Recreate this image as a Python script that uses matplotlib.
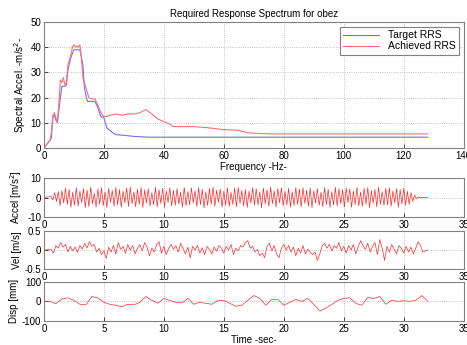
import numpy as np
import matplotlib
matplotlib.use("Agg")
import matplotlib.pyplot as plt

plt.rcParams["font.family"] = ["Liberation Sans", "DejaVu Sans"]
plt.rcParams["font.size"] = 7

# Response spectrum (frequency Hz, spectral accel m/s^2)
TARGET_F = [0, 1, 2, 2.5, 3, 3.5, 4, 4.5, 5, 5.5, 6, 7, 7.5, 8, 9, 10, 12, 13, 13.5,
            14, 14.5, 17, 18, 19, 20, 21, 22, 23, 24, 27, 30, 35, 128]
TARGET_A = [0, 1.5, 3, 4, 12.5, 13, 11, 10, 15, 20, 24.5, 24.5, 25, 31, 36, 39, 39, 33, 24,
            21, 18.5, 18.5, 16, 12.5, 12, 8, 7, 6, 5.3, 5, 4.6, 4.3, 4.3]
ACHIEVED_F = [0, 1, 2, 2.5, 3, 3.5, 4, 4.5, 5, 5.5, 6, 6.5, 7, 7.5, 8, 9, 9.5, 10, 10.5,
              11, 11.5, 12, 12.5, 13, 14, 15, 16, 17, 18, 19, 20, 21, 22, 24, 26, 28, 30,
              32, 34, 36, 38, 40, 42, 43, 50, 55, 60, 65, 68, 75, 128]
ACHIEVED_A = [0, 1.5, 3, 6, 13, 14, 12, 10.5, 18, 27, 26, 28, 25, 26, 33, 37, 40, 41, 40,
              40.5, 40, 41, 36, 28, 24, 20, 19.5, 19.5, 17, 14, 12.5, 12.5, 13, 13.5, 13,
              13.5, 13.5, 14, 15.3, 13.5, 11.5, 10.5, 9.5, 8.5, 8.5, 8, 7.3, 7, 6, 5.6, 5.6]

# Acceleration samples, every 0.15 s from 0.6 s
ACC_T0, ACC_DT = 0.6, 0.15
ACCEL = [
    0.5, -1.2, 2.5, -2.0, 3.0, -4.2, 3.5, -2.8, 4.8, -3.5,
    4.2, -5.0, 2.6, -3.9, 5.1, -4.4, 3.2, -2.5, 4.6, -5.2,
    3.8, -4.7, 5.3, -3.1, 2.2, -4.9, 4.4, -3.6, 5.0, -4.1,
    2.9, -5.3, 4.7, -2.4, 3.6, -4.5, 5.2, -3.8, 4.1, -5.0,
    3.3, -2.7, 4.9, -4.6, 5.4, -3.2, 2.8, -4.8, 4.3, -3.5,
    5.1, -5.2, 3.9, -2.9, 4.5, -4.3, 2.5, -3.7, 5.3, -4.9,
    4.0, -3.1, 4.8, -5.1, 3.4, -2.6, 5.0, -4.4, 3.7, -4.0,
    4.6, -3.3, 2.7, -5.0, 5.2, -4.2, 3.1, -3.8, 4.9, -2.8,
    3.5, -4.7, 5.1, -3.6, 4.2, -5.3, 2.9, -4.1, 4.7, -3.4,
    5.3, -4.5, 3.8, -2.5, 4.4, -5.0, 3.2, -3.9, 5.0, -4.6,
    2.6, -3.5, 4.9, -4.8, 5.2, -3.0, 3.6, -4.4, 4.1, -5.1,
    3.3, -2.9, 5.1, -4.0, 4.5, -3.7, 2.8, -5.2, 4.8, -3.3,
    4.0, -4.6, 5.3, -3.2, 3.5, -4.9, 4.6, -2.7, 5.0, -4.3,
    3.1, -3.8, 4.7, -5.0, 2.9, -4.2, 5.2, -3.5, 4.3, -4.8,
    5.0, -3.0, 3.7, -4.5, 4.9, -5.2, 3.4, -2.8, 4.5, -4.0,
    2.7, -4.7, 5.1, -3.6, 4.2, -5.1, 3.0, -3.9, 5.3, -4.4,
    4.6, -3.2, 3.9, -4.9, 5.0, -2.6, 4.4, -5.0, 3.3, -3.7,
    5.2, -4.3, 2.8, -4.6, 4.8, -3.4, 5.1, -5.2, 3.6, -2.9,
    4.1, -4.8, 5.3, -3.5, 3.0, -4.1, 4.7, -3.8, 5.0, -4.5,
    3.4, -2.7, 4.6, -5.0, 4.0, -3.3, 4.8, -4.0, 3.2, -3.6,
    2.5, -2.0, 1.2, -0.6, 0.3, -0.1,
]

# Velocity samples, every 0.2 s from 0.6 s
VEL_T0, VEL_DT = 0.6, 0.2
VEL = [
    0.02, -0.08, 0.12, 0.05, 0.2, 0.08, 0.15, -0.05, 0.1, -0.02,
    0.08, -0.06, 0.12, 0.03, 0.18, 0.06, 0.22, 0.1, 0.15, -0.05,
    0.05, -0.12, -0.02, -0.22, 0.08, -0.05, 0.12, -0.1, 0.2, 0.02,
    0.1, -0.08, 0.15, 0.0, 0.12, -0.1, 0.05, 0.15, -0.02, 0.2,
    0.08, -0.15, 0.05, -0.05, 0.15, 0.22, -0.08, 0.1, -0.12, 0.05,
    0.15, 0.02, 0.12, -0.05, 0.18, 0.05, -0.1, 0.08, -0.2, 0.1,
    0.0, 0.12, -0.08, 0.06, -0.12, 0.1, 0.02, -0.1, 0.08, -0.03,
    0.12, 0.05, -0.08, 0.1, 0.0, 0.15, -0.12, 0.05, -0.02, 0.12,
    0.08, 0.2, 0.25, 0.05, 0.1, -0.05, 0.02, -0.15, -0.08, -0.2,
    0.1, 0.18, -0.02, 0.12, -0.1, -0.2, 0.05, 0.15, 0.0, 0.12,
    -0.05, 0.08, -0.15, 0.05, -0.08, 0.12, -0.1, 0.02, -0.05, -0.12,
    -0.05, -0.27, -0.1, 0.12, 0.18, 0.05, 0.15, -0.02, 0.12, 0.05,
    0.2, -0.02, 0.1, -0.08, 0.12, 0.0, 0.15, -0.1, 0.08, 0.25,
    0.12, 0.02, 0.18, -0.05, 0.1, 0.2, -0.12, 0.28, 0.05, -0.27,
    0.1, -0.05, 0.15, 0.02, -0.1, 0.12, 0.05, -0.08, 0.1, -0.05,
    0.08, -0.1, 0.05, 0.22, 0.12, -0.05, -0.02, 0.0,
]

# Displacement samples (mm), every 0.5 s from 0 s
DISP_T0, DISP_DT = 0.0, 0.5
DISP = [
    0, 0, -12, 12, 18, 5, -15, -18, 25, 18, -5, -15, -20, -28, -15, -18, -5, 25, 5, -10,
    15, 5, -5, -8, 15, -15, -5, -10, -15, 5, 5, -10, -25, -20, 5, 30, 15, -20, 10, 10,
    -20, -5, 10, 0, 15, -15, -50, -35, -15, 5, 15, 18, -10, -20, 20, 15, 25, -15, 5, 0,
    3, 0, 5, 30, 0,
]
T_END = 32.0

GRID = dict(color="#b0b0b0", linestyle=":", linewidth=0.6)


def style(ax):
    ax.grid(True, **GRID)
    ax.tick_params(direction="in", length=3, width=0.5, pad=2)
    for s in ax.spines.values():
        s.set_color("#808080")
        s.set_linewidth(0.8)


fig = plt.figure(figsize=(4.67, 3.45), dpi=100)

ax = fig.add_axes([0.094, 0.571, 0.899, 0.365])
ax.plot(TARGET_F, TARGET_A, color="#7070ff", lw=0.8, label="Target RRS")
ax.plot(ACHIEVED_F, ACHIEVED_A, color="#ff7070", lw=0.8, label="Achieved RRS")
ax.set_xlim(0, 140)
ax.set_ylim(0, 50)
ax.set_xticks(range(0, 141, 20))
ax.set_yticks(range(0, 51, 10))
ax.set_title("Required Response Spectrum for obez", fontsize=7, pad=4)
ax.set_xlabel("Frequency -Hz-", labelpad=1)
ax.set_ylabel("Spectral Accel. -m/s$^2$-", labelpad=2)
leg = ax.legend(loc="upper right", fancybox=False, framealpha=1, edgecolor="#808080",
                handlelength=3.5, borderpad=0.3, labelspacing=0.1, fontsize=7.5)
leg.get_frame().set_linewidth(0.8)
style(ax)

acc_t = np.concatenate([[0.0], ACC_T0 + ACC_DT * np.arange(len(ACCEL)), [T_END]])
acc_v = np.concatenate([[0.0], ACCEL, [0.0]])
vel_t = np.concatenate([[0.0], VEL_T0 + VEL_DT * np.arange(len(VEL))])
vel_v = np.concatenate([[0.0], VEL])
disp_t = DISP_T0 + DISP_DT * np.arange(len(DISP))

panels = [
    ([0.094, 0.371, 0.899, 0.113], acc_t, acc_v, (-10, 10), [-10, 0, 10], "Accel [m/s$^2$]", 0.5),
    ([0.094, 0.220, 0.899, 0.110], vel_t, vel_v, (-0.5, 0.5), [-0.5, 0, 0.5], "Vel [m/s]", 0.5),
    ([0.094, 0.070, 0.899, 0.113], disp_t, DISP, (-100, 100), [-100, 0, 100], "Disp [mm]", 0.5),
]
for rect, t, v, ylim, yt, lab, lw in panels:
    a = fig.add_axes(rect)
    a.plot(t, v, color="#ff2a2a", lw=lw)
    a.set_xlim(0, 35)
    a.set_ylim(*ylim)
    a.set_xticks(range(0, 36, 5))
    a.set_yticks(yt)
    a.set_yticklabels([f"{y:g}" for y in yt])
    a.set_ylabel(lab, labelpad=2)
    style(a)
a.set_xlabel("Time -sec-", labelpad=1)

fig.savefig("out.png", dpi=100)
